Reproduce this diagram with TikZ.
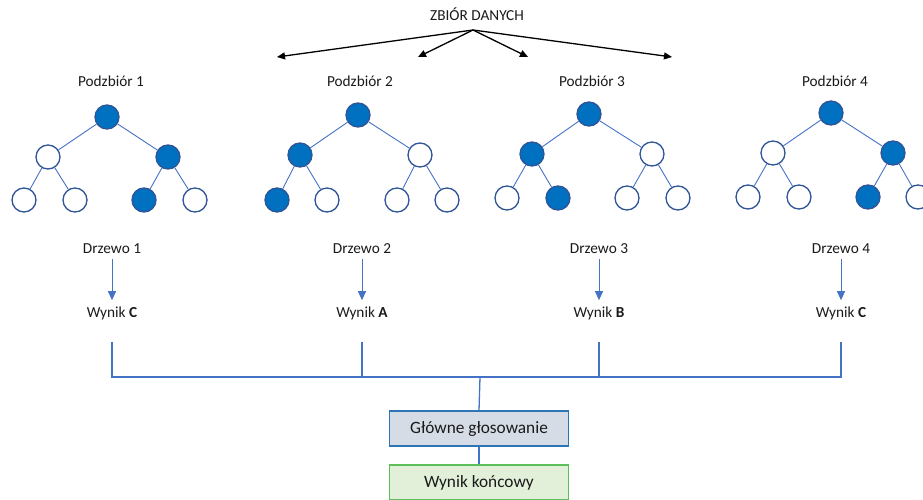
\documentclass[tikz,border=0pt]{standalone}
\usepackage{fontspec}
\setmainfont{Carlito}
\usetikzlibrary{arrows.meta}
\definecolor{lineblue}{HTML}{4472C4}
\definecolor{nodeblue}{HTML}{0070C0}
\definecolor{nodeedge}{HTML}{2F5597}
\definecolor{txt}{HTML}{1A1A1A}
\definecolor{votefill}{HTML}{D6DCE5}
\definecolor{voteedge}{HTML}{2E75B6}
\definecolor{resfill}{HTML}{E2F0D9}
\definecolor{resedge}{HTML}{5CBF5C}
\begin{document}
\begin{tikzpicture}[x=1pt,y=-1pt,
  lbl/.style={font=\fontsize{15.3}{18}\selectfont, text=txt, anchor=base, inner sep=2pt},
  full/.style={circle, draw=nodeedge, fill=nodeblue, line width=1.3pt, minimum size=24pt, inner sep=0pt},
  empty/.style={circle, draw=nodeedge, fill=white, line width=1.3pt, minimum size=24pt, inner sep=0pt},
  edge/.style={draw=lineblue, line width=0.9pt},
  treearrow/.style={draw=lineblue, line width=1pt, -{Triangle[length=9pt,width=8pt]}, shorten <=4pt, shorten >=4pt},
  dataarrow/.style={draw=black, line width=1.3pt, -{Triangle[length=8pt,width=7pt]}},
  bracket/.style={draw=lineblue, line width=1.3pt},
  barline/.style={draw=lineblue, line width=2.2pt},
  votebox/.style={draw=voteedge, fill=votefill, line width=1.3pt, minimum width=179pt, minimum height=35pt, inner sep=0pt, font=\fontsize{17.3}{20}\selectfont, text=txt},
  resbox/.style={draw=resedge, fill=resfill, line width=1.3pt, minimum width=179pt, minimum height=35pt, inner sep=0pt, font=\fontsize{17.3}{20}\selectfont, text=txt}
]
\useasboundingbox (0,0) rectangle (923,500);
\clip (0,0) rectangle (923,500);

% data set and arrows
\node[lbl] (zb) at (477,21) {ZBIÓR DANYCH};
\coordinate (src) at (473,30);
\coordinate (e1) at (277,57);
\coordinate (e2) at (418,57);
\coordinate (e3) at (528,57);
\coordinate (e4) at (672,57);
\foreach \e in {e1,e2,e3,e4} \draw[dataarrow] (src) -- (\e);

% subset labels
\node[lbl] (p1) at (111,87) {Podzbiór 1};
\node[lbl] (p2) at (360,87) {Podzbiór 2};
\node[lbl] (p3) at (592,87) {Podzbiór 3};
\node[lbl] (p4) at (835,87) {Podzbiór 4};

% tree 1
\node[full]  (t1r) at (107,117) {};
\node[empty] (t1a) at (48,157) {};
\node[full]  (t1b) at (168,157) {};
\node[empty] (t1c) at (24,200) {};
\node[empty] (t1d) at (75,200) {};
\node[full]  (t1e) at (144,200) {};
\node[empty] (t1f) at (195,200) {};
% tree 2
\node[full]  (t2r) at (358,115) {};
\node[full]  (t2a) at (300,155) {};
\node[empty] (t2b) at (420,155) {};
\node[full]  (t2c) at (277,200) {};
\node[empty] (t2d) at (327,200) {};
\node[empty] (t2e) at (397,200) {};
\node[empty] (t2f) at (447,200) {};
% tree 3
\node[full]  (t3r) at (589,114) {};
\node[full]  (t3a) at (532,154) {};
\node[empty] (t3b) at (652,154) {};
\node[empty] (t3c) at (507,198) {};
\node[full]  (t3d) at (558,198) {};
\node[empty] (t3e) at (627,198) {};
\node[empty] (t3f) at (678,198) {};
% tree 4
\node[full]  (t4r) at (831,113) {};
\node[empty] (t4a) at (773,153) {};
\node[full]  (t4b) at (893,153) {};
\node[empty] (t4c) at (748,197) {};
\node[empty] (t4d) at (799,197) {};
\node[full]  (t4e) at (868,197) {};
\node[empty] (t4f) at (918,197) {};

\foreach \t in {1,2,3,4} {
  \draw[edge] (t\t r) -- (t\t a);
  \draw[edge] (t\t r) -- (t\t b);
  \draw[edge] (t\t a) -- (t\t c);
  \draw[edge] (t\t a) -- (t\t d);
  \draw[edge] (t\t b) -- (t\t e);
  \draw[edge] (t\t b) -- (t\t f);
}

% tree labels and results
\node[lbl] (d1) at (112,253) {Drzewo 1};
\node[lbl] (d2) at (362,253) {Drzewo 2};
\node[lbl] (d3) at (599,253) {Drzewo 3};
\node[lbl] (d4) at (841,253) {Drzewo 4};
\node[lbl] (w1) at (112,317) {Wynik \textbf{C}};
\node[lbl] (w2) at (362,317) {Wynik \textbf{A}};
\node[lbl] (w3) at (599,317) {Wynik \textbf{B}};
\node[lbl] (w4) at (841,317) {Wynik \textbf{C}};
\foreach \i in {1,2,3,4} \draw[treearrow] (d\i.south) -- (w\i.north);

% bracket
\coordinate (bar) at (480,377);
\foreach \i in {1,2,3,4} \draw[bracket] ([yshift=-20pt]w\i.south) -- (w\i.south |- bar);
\draw[barline] ([xshift=-1pt]w1.south |- bar) -- ([xshift=1pt]w4.south |- bar);

% voting and result
\node[votebox] (vote) at (479,428.5) {Główne głosowanie};
\node[resbox] (res) at (479,482.5) {Wynik końcowy};
\draw[bracket] (bar) -- (vote.north);
\draw[bracket] (vote.south) -- (res.north);
\end{tikzpicture}
\end{document}
